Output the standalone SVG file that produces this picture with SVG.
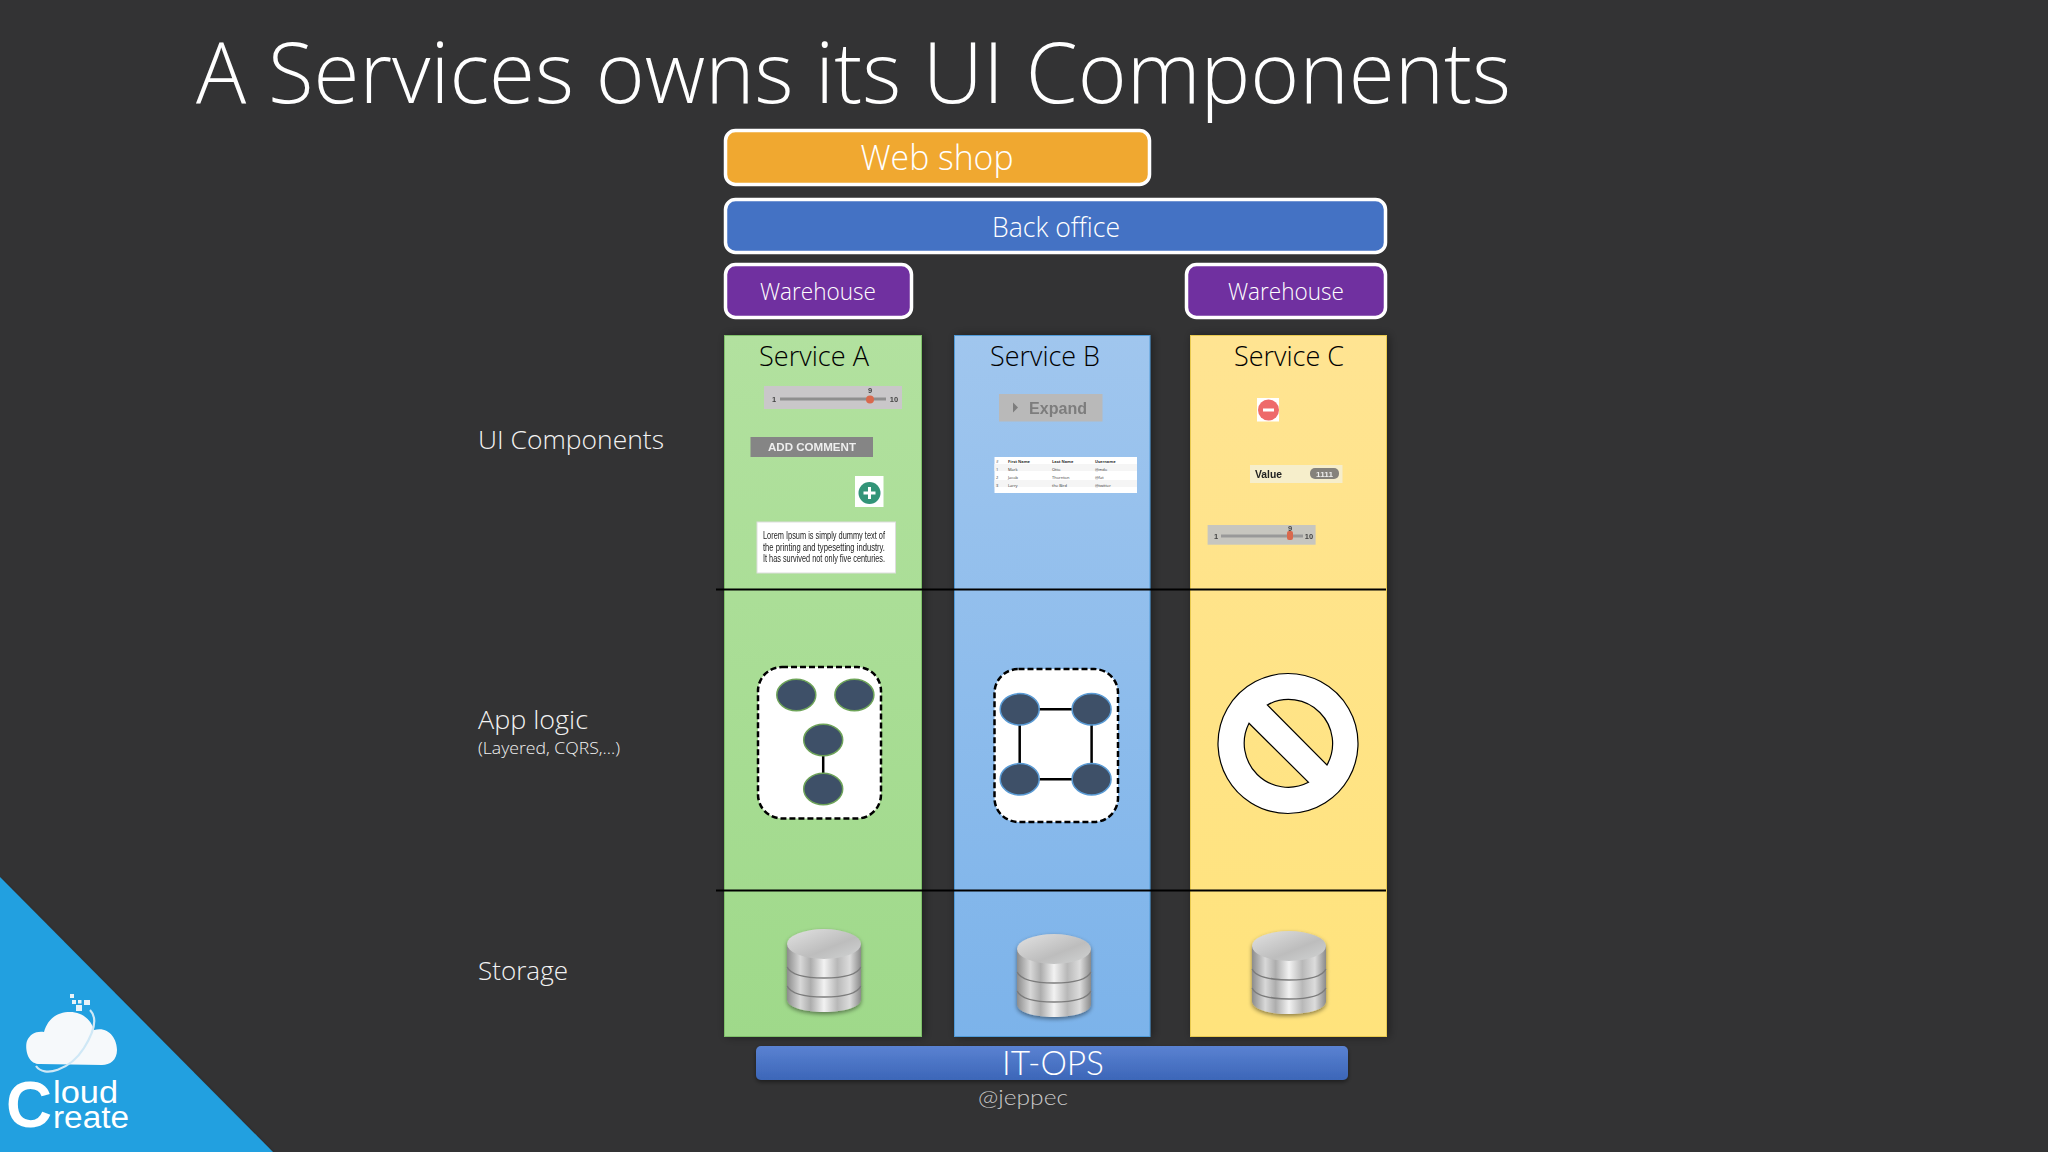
<svg xmlns="http://www.w3.org/2000/svg" xmlns:xlink="http://www.w3.org/1999/xlink" width="2048" height="1152" viewBox="0 0 2048 1152">
<style>
text{font-family:"Open Sans","Lato","Liberation Sans",sans-serif}
.lt{font-weight:300;fill:#fff}
.lab{font-weight:300;fill:#f2f2f2}
.svc{font-weight:300;fill:#000;font-size:27px;text-anchor:middle}
.bar{stroke:#fff;stroke-width:3.5}
.c{text-anchor:middle}
.col{filter:url(#sh)}
.node{stroke-width:1.5}
.edge{stroke:#000;stroke-width:2.5;fill:none}
.dash{fill:#fff;stroke:#000;stroke-width:2.5;stroke-dasharray:6 3}
.w{font-family:"Liberation Sans",sans-serif}
.la{font-family:"Lato","Open Sans",sans-serif}
.tiny{font-family:"Liberation Sans",sans-serif;font-size:4px;fill:#333}
.lorem{font-family:"Liberation Sans",sans-serif;font-size:10.6px;fill:#222}
.sl{font-family:"Liberation Sans",sans-serif;font-size:7.5px;font-weight:700;fill:#444;text-anchor:middle}
</style>
<defs>
<filter id="sh" x="-15%" y="-5%" width="130%" height="110%"><feDropShadow dx="2" dy="0" stdDeviation="5" flood-color="#000" flood-opacity=".4"/></filter>
<filter id="bl" x="-5%" y="-5%" width="110%" height="110%"><feGaussianBlur stdDeviation=".6"/></filter>
<filter id="soft" x="-20%" y="-20%" width="140%" height="140%"><feDropShadow dx="0" dy="2" stdDeviation="2" flood-color="#000" flood-opacity=".45"/></filter>
<linearGradient id="ga" x1="0" y1="0" x2="0" y2="1"><stop offset="0" stop-color="#b2e19f"/><stop offset="1" stop-color="#9fd98a"/></linearGradient>
<linearGradient id="gb" x1="0" y1="0" x2="0" y2="1"><stop offset="0" stop-color="#a0c6ee"/><stop offset="1" stop-color="#7cb3ea"/></linearGradient>
<linearGradient id="gc" x1="0" y1="0" x2="0" y2="1"><stop offset="0" stop-color="#ffe492"/><stop offset="1" stop-color="#ffe37c"/></linearGradient>
<linearGradient id="it" x1="0" y1="0" x2="0" y2="1"><stop offset="0" stop-color="#5a82d2"/><stop offset="1" stop-color="#3c66b8"/></linearGradient>
<linearGradient id="si" x1="0" y1="0" x2="1" y2="0"><stop offset="0" stop-color="#8c8c8c"/><stop offset=".18" stop-color="#d8d8d8"/><stop offset=".32" stop-color="#adadad"/><stop offset=".5" stop-color="#f2f2f2"/><stop offset=".68" stop-color="#b8b8b8"/><stop offset=".85" stop-color="#dcdcdc"/><stop offset="1" stop-color="#8a8a8a"/></linearGradient>
<linearGradient id="st" x1="0" y1="0" x2="1" y2="1"><stop offset="0" stop-color="#e2e2e2"/><stop offset=".6" stop-color="#bdbdbd"/><stop offset="1" stop-color="#d2d4d4"/></linearGradient>
<g id="db" filter="url(#soft)">
<path d="M0 15V70C0 78 16 83 37 83S74 78 74 70V15Z" fill="url(#si)"/>
<path d="M0 38C4 46 18 49 37 49S70 46 74 38" fill="none" stroke="#7c7c7c" stroke-width="1.600"/>
<path d="M0 57C4 65 18 68 37 68S70 65 74 57" fill="none" stroke="#7c7c7c" stroke-width="1.600"/>
<ellipse cx="37" cy="15" rx="37" ry="15" fill="url(#st)"/>
</g>
</defs>
<rect width="2048" height="1152" fill="#333334"/>
<text x="196" y="103" font-size="85" class="lt" textLength="1315" lengthAdjust="spacingAndGlyphs">A Services owns its UI Components</text>
<g id="brand">
<path d="M0 877L273 1152H0Z" fill="#22a0e0" filter="url(#soft)"/>
<path d="M40 1064C26 1064 25 1046 27 1041C30 1034 36 1031 44 1032C48 1018 58 1012 70 1012C84 1012 92 1022 94 1030C108 1026 117 1038 117 1050C117 1060 110 1065 102 1065Z" fill="#f6f9fb"/>
<path d="M36 1066C44 1078 70 1070 84 1048C94 1032 98 1018 90 1010" fill="none" stroke="#cfe8f6" stroke-width="2.2"/>
<g fill="#e8f3f9"><rect x="70" y="994" width="4" height="4"/><rect x="72" y="1000" width="4" height="4"/><rect x="78" y="1000" width="3.500" height="3.500"/><rect x="84" y="1000" width="6" height="5"/><rect x="76" y="1005" width="6" height="6"/></g>
<text x="6" y="1127" font-size="64" font-weight="700" fill="#fff" class="w" textLength="46" lengthAdjust="spacingAndGlyphs">C</text>
<text x="53" y="1103" font-size="31" fill="#fff" class="w" textLength="65" lengthAdjust="spacingAndGlyphs">loud</text>
<text x="53" y="1128" font-size="31" fill="#fff" class="w" textLength="76" lengthAdjust="spacingAndGlyphs">reate</text>
</g>
<g id="row-labels">
<text x="478" y="449" font-size="25" class="lab" textLength="186" lengthAdjust="spacingAndGlyphs">UI Components</text>
<text x="478" y="729" font-size="26" class="lab" textLength="110" lengthAdjust="spacingAndGlyphs">App logic</text>
<text x="478" y="754" font-size="16" class="lab" textLength="142" lengthAdjust="spacingAndGlyphs">(Layered, CQRS,...)</text>
<text x="478" y="980" font-size="26" class="lab" textLength="90" lengthAdjust="spacingAndGlyphs">Storage</text>
</g>
<g id="webshop"><rect class="bar" x="725.500" y="130.500" width="424" height="54" rx="10" fill="#f0a830"/><text x="937" y="170" font-size="34" class="lt c" textLength="153" lengthAdjust="spacingAndGlyphs">Web shop</text></g>
<g id="backoffice"><rect class="bar" x="725.500" y="199.500" width="660" height="53" rx="10" fill="#4472c4"/><text x="1056" y="237" font-size="28" class="lt c" textLength="128" lengthAdjust="spacingAndGlyphs">Back office</text></g>
<g id="warehouse-a"><rect class="bar" x="725.500" y="264.500" width="186" height="53" rx="10" fill="#7030a0"/><text x="818" y="300" font-size="24" class="lt c" textLength="116" lengthAdjust="spacingAndGlyphs">Warehouse</text></g>
<g id="warehouse-c"><rect class="bar" x="1186.500" y="264.500" width="199" height="53" rx="10" fill="#7030a0"/><text x="1286" y="300" font-size="24" class="lt c" textLength="116" lengthAdjust="spacingAndGlyphs">Warehouse</text></g>

<g id="service-a">
<rect class="col" x="724.500" y="335.500" width="197" height="701" fill="url(#ga)" stroke="#7fc06a"/>
<text x="814" y="366" class="svc" textLength="110" lengthAdjust="spacingAndGlyphs">Service A</text>
<g filter="url(#bl)">
<rect x="764" y="386" width="138" height="23" fill="#c9c7c9"/>
<rect x="780" y="397.500" width="106" height="3" fill="#8f8f8f"/><circle cx="870" cy="399.500" r="4" fill="#d9694e"/>
<text x="774" y="402" class="sl">1</text><text x="870" y="393" class="sl">9</text><text x="894" y="402" class="sl">10</text>
<rect x="750.500" y="437" width="122.500" height="20" fill="#858585"/>
<text x="812" y="451" class="w c" font-size="11.500" font-weight="700" fill="#eee" textLength="88" lengthAdjust="spacingAndGlyphs">ADD COMMENT</text>
<rect x="855" y="476" width="28.500" height="31" fill="#fff"/>
<circle cx="869.500" cy="493" r="11" fill="#319478"/><path d="M863.500 493h12M869.500 487v12" stroke="#fff" stroke-width="3"/>
<rect x="757" y="522" width="138.500" height="51" fill="#fff" stroke="#ddd"/>
<text x="763" y="539" class="lorem" textLength="122" lengthAdjust="spacingAndGlyphs">Lorem Ipsum is simply dummy text of</text>
<text x="763" y="551" class="lorem" textLength="122" lengthAdjust="spacingAndGlyphs">the printing and typesetting industry.</text>
<text x="763" y="562" class="lorem" textLength="122" lengthAdjust="spacingAndGlyphs">It has survived not only five centuries.</text>
</g>
<rect class="dash" x="758" y="667" width="123" height="151.500" rx="24"/>
<g fill="#3e5068" stroke="#6da358" class="node">
<ellipse cx="796.300" cy="695" rx="19.500" ry="15.700"/><ellipse cx="854.400" cy="695" rx="19.500" ry="15.700"/>
<path d="M823.200 755V775" stroke="#000" stroke-width="2.500"/>
<ellipse cx="823.200" cy="740" rx="19.500" ry="15.700"/><ellipse cx="823.200" cy="789" rx="19.500" ry="15.700"/>
</g>
<use xlink:href="#db" href="#db" x="787" y="929"/>
</g>

<g id="service-b">
<rect class="col" x="954.500" y="335.500" width="195.500" height="701" fill="url(#gb)" stroke="#4f9ad8"/>
<text x="1045" y="366" class="svc" textLength="110" lengthAdjust="spacingAndGlyphs">Service B</text>
<g filter="url(#bl)">
<rect x="999" y="394" width="103.500" height="27.500" fill="#b9b9b9"/>
<path d="M1013 402.500l5 5-5 5z" fill="#7d7d7d"/>
<text x="1058" y="414" class="w c" font-size="16" font-weight="700" fill="#7d7d7d" textLength="58" lengthAdjust="spacingAndGlyphs">Expand</text>
<rect x="994.500" y="457" width="142.500" height="36" fill="#fff"/>
<rect x="994.500" y="464" width="142.500" height="7" fill="#f5f5f5"/><rect x="994.500" y="480" width="142.500" height="7" fill="#f5f5f5"/>
</g>
<g class="tiny">
<text x="996" y="463">#</text><text x="1008" y="463" font-weight="700">First Name</text><text x="1052" y="463" font-weight="700">Last Name</text><text x="1095" y="463" font-weight="700">Username</text>
<text x="996" y="471">1</text><text x="1008" y="471">Mark</text><text x="1052" y="471">Otto</text><text x="1095" y="471">@mdo</text>
<text x="996" y="479">2</text><text x="1008" y="479">Jacob</text><text x="1052" y="479">Thornton</text><text x="1095" y="479">@fat</text>
<text x="996" y="487">3</text><text x="1008" y="487">Larry</text><text x="1052" y="487">the Bird</text><text x="1095" y="487">@twitter</text>
</g>
<rect class="dash" x="994.500" y="669" width="123.500" height="153" rx="24"/>
<path class="edge" d="M1019.700 709.300H1091.600V779.300H1019.700Z"/>
<g fill="#3e5068" stroke="#5a9bd5" class="node">
<ellipse cx="1019.700" cy="709.300" rx="19.500" ry="15.700"/><ellipse cx="1091.600" cy="709.300" rx="19.500" ry="15.700"/>
<ellipse cx="1019.700" cy="779.300" rx="19.500" ry="15.700"/><ellipse cx="1091.600" cy="779.300" rx="19.500" ry="15.700"/>
</g>
<use xlink:href="#db" href="#db" x="1017" y="934"/>
</g>

<g id="service-c">
<rect class="col" x="1190.500" y="335.500" width="196" height="701" fill="url(#gc)" stroke="#e8c94f"/>
<text x="1289" y="366" class="svc" textLength="110" lengthAdjust="spacingAndGlyphs">Service C</text>
<g filter="url(#bl)">
<rect x="1257" y="398" width="22" height="23.500" fill="#fff"/>
<circle cx="1268.500" cy="410" r="10.500" fill="#ee6a6a"/><rect x="1263" y="408.500" width="11" height="3" fill="#fff"/>
<rect x="1250" y="465" width="92.500" height="18" fill="#f6eecb"/>
<text x="1255" y="477.500" class="w" font-size="10.500" font-weight="700" fill="#222" textLength="27" lengthAdjust="spacingAndGlyphs">Value</text>
<rect x="1310" y="468" width="29" height="11" rx="5" fill="#85827c"/><text x="1324.500" y="476.500" class="w c" font-size="8" font-weight="700" fill="#eee" textLength="17" lengthAdjust="spacingAndGlyphs">1111</text>
<rect x="1207.600" y="525" width="108" height="19.700" fill="#c7c6bf"/>
<rect x="1221" y="534.500" width="82" height="3" fill="#999"/><rect x="1287" y="531" width="6" height="9" rx="2" fill="#d9694e"/>
<text x="1216" y="539" class="sl">1</text><text x="1290" y="531" class="sl">9</text><text x="1309" y="539" class="sl">10</text>
</g>
<path fill="#fff" fill-rule="evenodd" stroke="#000" stroke-width="1.200" d="M1288 673.500a70 70 0 1 0 .01 0ZM1267.300 705A44 44 0 0 1 1327 765ZM1249 723.300L1308.500 782.300A44 44 0 0 1 1249 723.300Z"/>
<use xlink:href="#db" href="#db" x="1252" y="931"/>
</g>

<g id="connectors">
<path d="M716 589.500H1386M716 890.500H1386" stroke="#000" stroke-width="2" fill="none"/>
</g>
<g id="itops"><rect x="756" y="1046" width="592" height="34" rx="5" fill="url(#it)" filter="url(#soft)"/><text x="1053" y="1075" font-size="34" class="lt c la" textLength="102" lengthAdjust="spacingAndGlyphs">IT-OPS</text></g>
<text x="1023" y="1105" font-size="22" class="c la" font-weight="300" fill="#c8c8c8" textLength="90" lengthAdjust="spacingAndGlyphs">@jeppec</text>
</svg>
